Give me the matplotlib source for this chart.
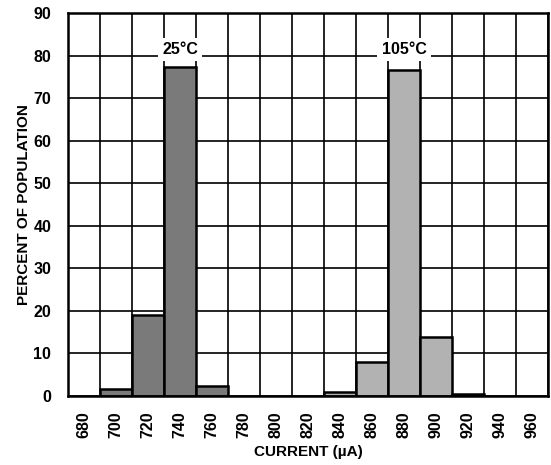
import numpy as np
import matplotlib.pyplot as plt

plt.rcParams['font.family'] = ['Liberation Sans', 'DejaVu Sans']
plt.rcParams['font.weight'] = 'bold'

# x ticks / bins (uA)
ticks = list(range(680, 961, 20))

# 25C distribution
cur_25 = [700, 720, 740, 760]
pct_25 = [1.6, 19.0, 77.2, 2.3]

# 105C distribution
cur_105 = [840, 860, 880, 900, 920]
pct_105 = [1.0, 8.0, 76.6, 13.9, 0.5]

labels = ['25°C', '105°C']
label_x = [740, 880]
label_y = [81.5, 81.5]

fig = plt.figure(figsize=(5.51, 4.65), dpi=100)
ax = fig.add_axes([68/551, 1 - 396/465, 480/551, 383/465])

# grid
for x in np.arange(670, 971, 20):
    ax.axvline(x, color='black', lw=1.2, zorder=1)
for y in range(0, 91, 10):
    ax.axhline(y, color='black', lw=1.2, zorder=1)

ax.bar(cur_25, pct_25, width=20, color='#7a7a7a', edgecolor='black', lw=1.8, zorder=2)
ax.bar(cur_105, pct_105, width=20, color='#b2b2b2', edgecolor='black', lw=1.8, zorder=2)

for t, x, y in zip(labels, label_x, label_y):
    ax.text(x, y, t, ha='center', va='center', fontsize=11.5, fontweight='bold', zorder=3,
            bbox=dict(facecolor='white', edgecolor='none', pad=3))

ax.set_xlim(670, 970)
ax.set_ylim(0, 90)
ax.set_xticks(ticks)
ax.set_xticklabels([str(t) for t in ticks], rotation=90, fontsize=11.5, fontweight='bold')
ax.set_yticks(range(0, 91, 10))
ax.set_yticklabels([str(v) for v in range(0, 91, 10)], fontsize=11.5, fontweight='bold')
ax.tick_params(axis='x', length=0, pad=11)
ax.tick_params(axis='y', length=0, pad=12)
for s in ax.spines.values():
    s.set_linewidth(1.8)

ax.set_xlabel('CURRENT (µA)', fontsize=11, fontweight='bold', labelpad=5)
ax.set_ylabel('PERCENT OF POPULATION', fontsize=11, fontweight='bold', labelpad=2)

fig.savefig('out.png', dpi=100)
